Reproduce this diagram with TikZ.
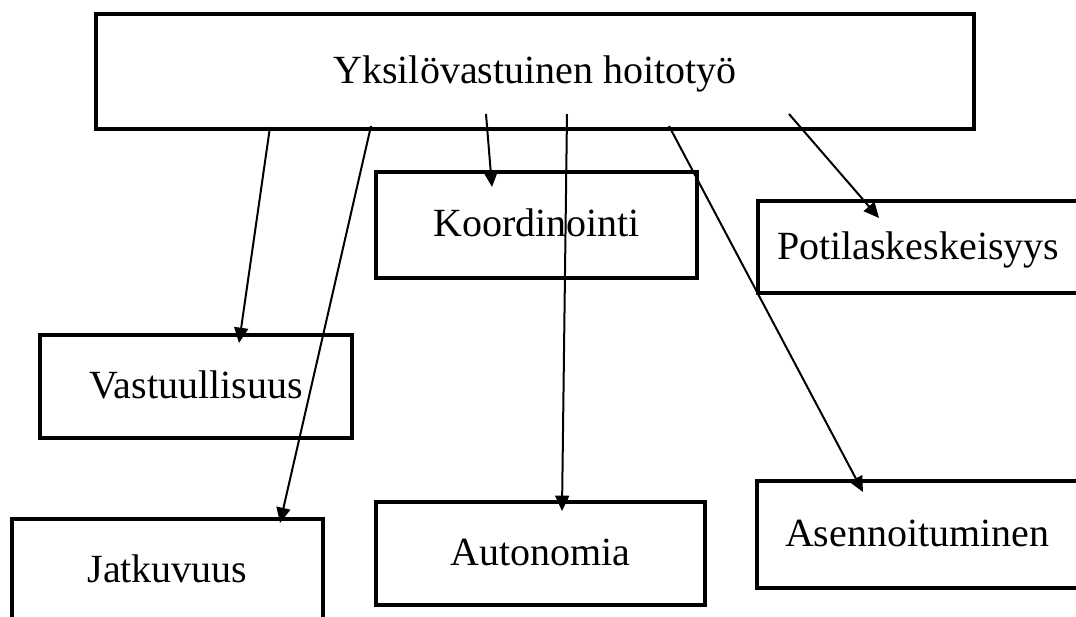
\documentclass[tikz,border=0pt]{standalone}
\usepackage{fontspec}
\setmainfont{Liberation Serif}
\usetikzlibrary{arrows.meta,calc}

\begin{document}
\begin{tikzpicture}[x=0.75pt, y=-0.75pt,
    laatikko/.style={draw, line width=3.7pt, rectangle, outer sep=0pt, inner sep=0pt,
        font=\fontsize{30pt}{34pt}\selectfont, text height=18pt, text depth=0pt},
    reunalla/.style={laatikko, inner xsep=#1, align=left},
    nuoli/.style={line width=1.5pt, -{Triangle[length=11.5pt, width=10.5pt]}}]
    \useasboundingbox (0,0) rectangle (1076,617);
    \clip (0,0) rectangle (1076,617);

    % Ylälaatikko
    \node[laatikko, minimum width=658.5pt, minimum height=86.25pt] (hoitotyo) at (535,71.5) {Yksilövastuinen hoitotyö};

    % Osa-alueet
    \node[laatikko, minimum width=240.75pt, minimum height=79.5pt] (koord) at (536.5,225) {Koordinointi};
    \node[reunalla=14.25pt, text width=226.5pt, minimum height=69pt] (potilas) at (928,247) {Potilaskeskeisyys};
    \node[laatikko, minimum width=234pt, minimum height=77.25pt] (vastuu) at (196,386.5) {Vastuullisuus};
    \node[laatikko, minimum width=233.25pt, minimum height=77.25pt] (jatkuvuus) at (167.5,570.5) {Jatkuvuus};
    \node[laatikko, minimum width=246.75pt, minimum height=77.25pt] (autonomia) at (540.5,553.5) {Autonomia};
    \node[reunalla=21pt, text width=213pt, minimum height=80.25pt] (asenne) at (927,534.5) {Asennoituminen};

    % Nuolet
    \draw[nuoli] ($(hoitotyo.south west)+(174,-2)$) -- ($(vastuu.north west)+(199,8)$);
    \draw[nuoli] ($(hoitotyo.south west)+(275,-3)$) -- ($(jatkuvuus.north west)+(268,4)$);
    \draw[nuoli] ($(hoitotyo.south west)+(390,-15)$) -- ($(koord.north west)+(116,15)$);
    \draw[nuoli] ($(hoitotyo.south west)+(471,-15)$) -- ($(autonomia.north west)+(186,9)$);
    \draw[nuoli] ($(hoitotyo.south west)+(573,-3)$) -- ($(asenne.north west)+(106,11)$);
    \draw[nuoli] ($(hoitotyo.south west)+(693,-15)$) -- ($(potilas.north west)+(121,17)$);
\end{tikzpicture}
\end{document}
